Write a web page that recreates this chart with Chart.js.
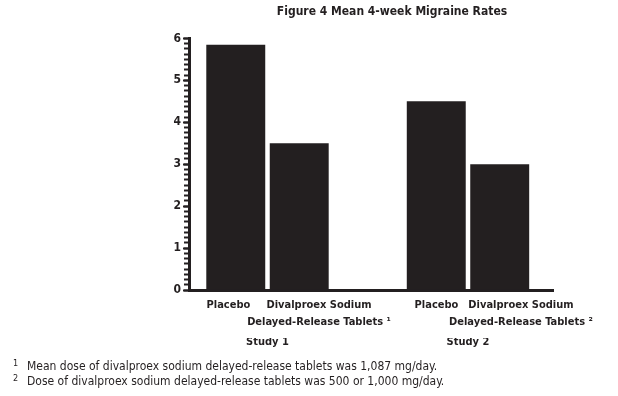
<!DOCTYPE html>
<html>
<head>
<meta charset="utf-8">
<script src="https://cdn.jsdelivr.net/npm/chart.js@4/dist/chart.umd.min.js"></script>
<style>
  html, body { margin: 0; padding: 0; background: #fff; }
  #wrap { position: relative; width: 618px; height: 396px; }
  #notes {
    position: absolute; left: 13px; top: 359px;
    font-family: 'Liberation Sans Narrow', 'DejaVu Sans Condensed', sans-serif;
    font-size: 12px; line-height: 15px; color: #231f20;
  }
  #notes .n { display: inline-block; width: 14px; font-size: 9px; position: relative; top: -4px; line-height: 0; }
</style>
</head>
<body>
<div id="wrap">
  <canvas id="chart0" width="618" height="396"></canvas>
  <div id="notes">
    <div><span class="n">1</span>Mean dose of divalproex sodium delayed-release tablets was 1,087 mg/day.</div>
    <div><span class="n">2</span>Dose of divalproex sodium delayed-release tablets was 500 or 1,000 mg/day.</div>
  </div>
</div>
<script>
// data
const studies = ['Study 1', 'Study 2'];
const placebo = [5.85, 4.5];
const divalproex = [3.5, 3.0];
const barLabels = [
    ['Placebo'], ['Divalproex Sodium', 'Delayed-Release Tablets \u00b9'],
    ['Placebo'], ['Divalproex Sodium', 'Delayed-Release Tablets \u00b2']
];
const yTicks = [0, 1, 2, 3, 4, 5, 6];

const ink = '#231f20';
const fontFam = "'Liberation Sans Narrow', 'DejaVu Sans Condensed', sans-serif";

// x range so the two study groups sit where they are in the figure
const xMin = 0.6085;
const xMax = 2.424;
// label centres relative to each study
const labelShift = [-0.195, 0.257, -0.157, 0.264];

const ctx = document.getElementById('chart0').getContext('2d');
const chart0 = new Chart(ctx, {
    type: 'bar',
    data: {
        datasets: [{
            label: 'Placebo',
            data: placebo.map((v, i) => ({ x: i + 1, y: v })),
            backgroundColor: ink,
            borderWidth: 0
        }, {
            label: 'Divalproex Sodium Delayed-Release Tablets',
            data: divalproex.map((v, i) => ({ x: i + 1, y: v })),
            backgroundColor: ink,
            borderWidth: 0
        }]
    },
    options: {
        responsive: false,
        animation: false,
        categoryPercentage: 0.633,
        barPercentage: 0.929,
        layout: { padding: { left: 166, right: 0, top: 0, bottom: 49 } },
        plugins: {
            legend: { display: false },
            tooltip: { enabled: false },
            title: {
                display: true,
                text: 'Figure 4 Mean 4-week Migraine Rates',
                color: ink,
                font: { family: fontFam, size: 12, weight: 'bold' },
                padding: { top: 5, bottom: 19 }
            }
        },
        scales: {
            x: {
                type: 'linear',
                min: xMin,
                max: xMax,
                offset: false,
                weight: 0,
                afterBuildTicks: s => { s.ticks = studies.map((_, i) => ({ value: i + 1 })); },
                ticks: { display: false },
                grid: { display: false, drawTicks: false, offset: false },
                border: { display: true, color: ink, width: 3 }
            },
            xBars: {
                type: 'linear',
                position: 'bottom',
                min: xMin,
                max: xMax,
                offset: false,
                weight: 1,
                afterBuildTicks: s => {
                    s.ticks = barLabels.map((_, i) => ({ value: Math.floor(i / 2) + 1 + labelShift[i] }));
                },
                ticks: {
                    autoSkip: false,
                    maxRotation: 0,
                    padding: 7,
                    color: ink,
                    font: { family: fontFam, size: 11, weight: 'bold', lineHeight: 1.545 },
                    callback: (v, i) => barLabels[i]
                },
                grid: { display: false, drawTicks: false, offset: false },
                border: { display: false }
            },
            xStudy: {
                type: 'linear',
                position: 'bottom',
                min: xMin,
                max: xMax,
                offset: false,
                weight: 2,
                afterBuildTicks: s => { s.ticks = studies.map((_, i) => ({ value: i + 1 })); },
                ticks: {
                    autoSkip: false,
                    maxRotation: 0,
                    padding: -4,
                    color: ink,
                    font: { family: fontFam, size: 11, weight: 'bold', lineHeight: 1.545 },
                    callback: (v, i) => studies[i]
                },
                grid: { display: false, drawTicks: false, offset: false },
                border: { display: false }
            },
            y: {
                min: 0,
                max: 6,
                afterBuildTicks: s => { s.ticks = yTicks.map(v => ({ value: v })); },
                afterFit: s => { s.width = 23; },
                ticks: {
                    padding: 2,
                    color: ink,
                    font: { family: fontFam, size: 12, weight: 'bold' }
                },
                grid: { drawOnChartArea: false, tickLength: 6, tickWidth: 2, tickColor: ink },
                border: { display: true, color: ink, width: 3 }
            },
            yMinor: {
                axis: 'y',
                position: { x: xMin },
                min: 0,
                max: 6,
                ticks: { display: false, stepSize: 0.125, autoSkip: false },
                grid: { drawOnChartArea: false, tickLength: 5, tickWidth: 2, tickColor: ink },
                border: { display: false }
            },
            yPad: {
                axis: 'y',
                position: 'right',
                min: 0,
                max: 6,
                afterFit: s => { s.width = 65; },
                ticks: { display: false },
                grid: { display: false, drawTicks: false },
                border: { display: false }
            }
        }
    }
});
</script>
</body>
</html>
